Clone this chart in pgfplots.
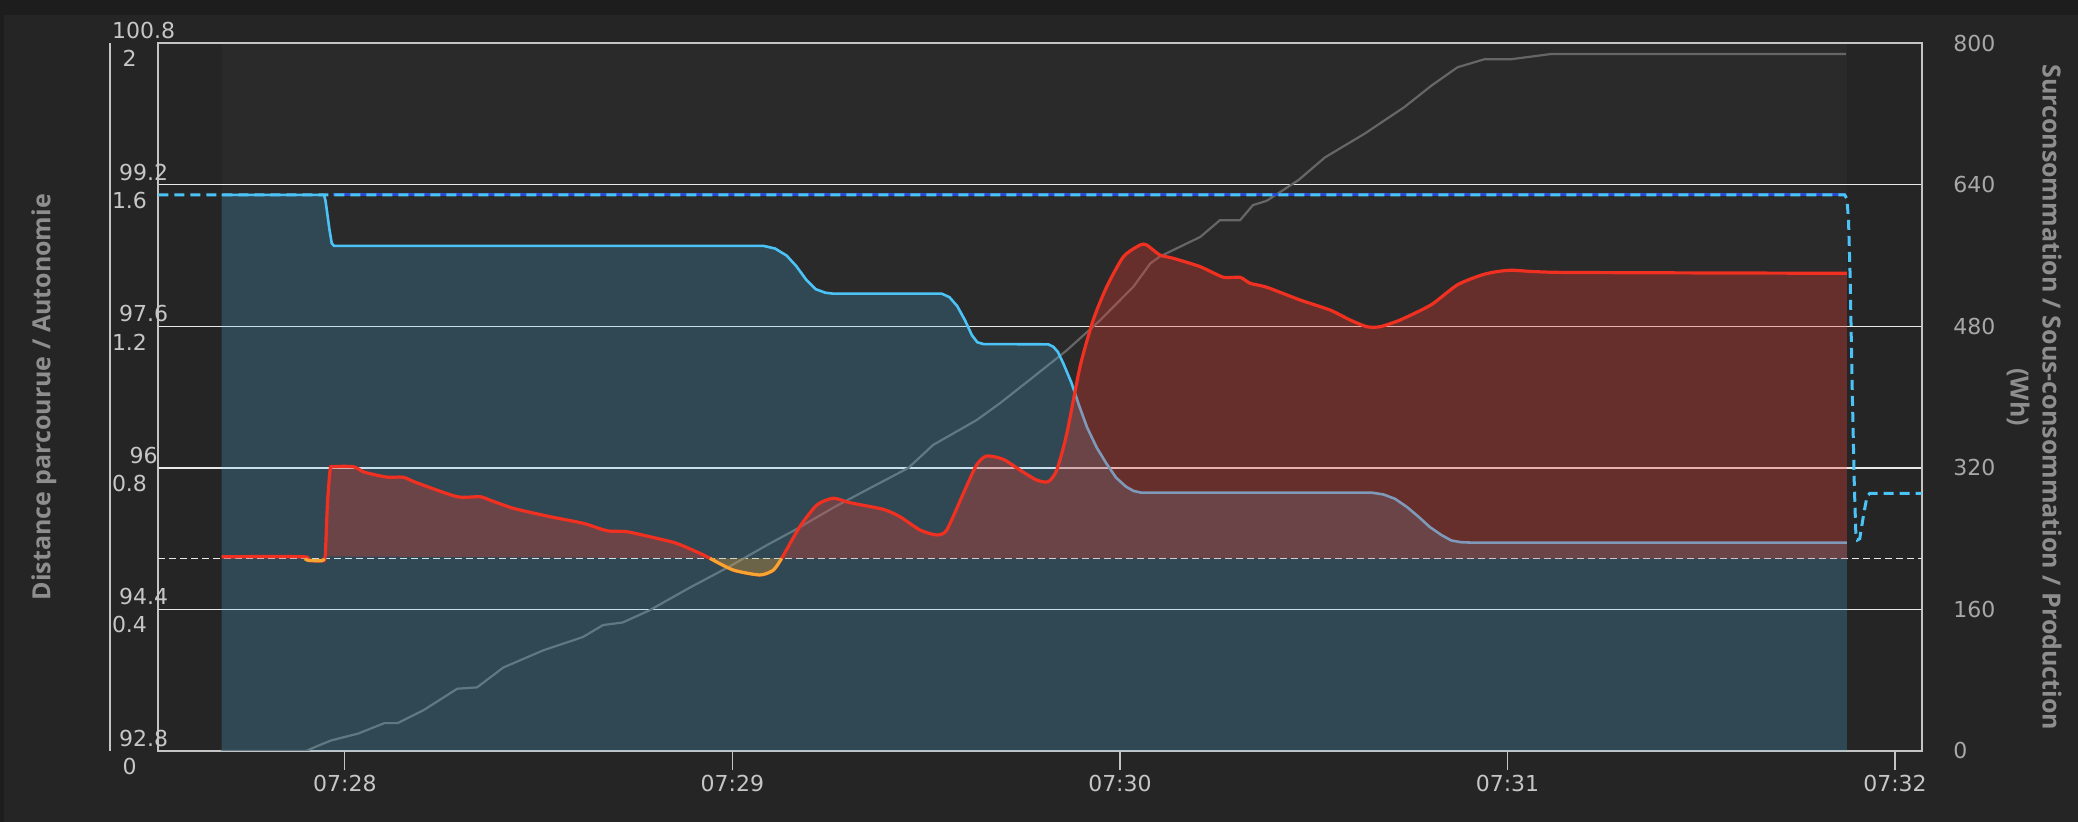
\documentclass[border=0pt]{standalone}
\usepackage{fontspec}
\setmainfont{DejaVu Sans}
\newfontfamily\titlefont{Open Sans}
\usepackage{pgfplots}
\pgfplotsset{compat=1.18}

\definecolor{bgc}{HTML}{252525}
\definecolor{topc}{HTML}{1D1D1D}
\definecolor{framec}{HTML}{C4C4C4}
\definecolor{gridc}{HTML}{E8E8E8}
\definecolor{labc}{HTML}{C6C6C6}
\definecolor{rlabc}{HTML}{A8A8A8}
\definecolor{titc}{HTML}{8E8E8E}
\definecolor{bluec}{HTML}{4CC3F7}
\definecolor{dblue}{HTML}{2C4CD0}
\definecolor{redc}{HTML}{F03020}
\definecolor{redf}{HTML}{F03C30}
\definecolor{orangec}{HTML}{F5A530}
\definecolor{grayc}{HTML}{666666}

\pgfplotstableread{
x y
27.682 628.7
27.946 628.7
27.950 622
27.960 590
27.966 574
27.972 571
29.080 571
29.110 568
29.140 560
29.165 548
29.190 533
29.215 522
29.240 518
29.260 517
29.540 517
29.560 513
29.580 503
29.600 487
29.618 470
29.632 462
29.648 460
29.815 459.7
29.828 457
29.840 451
29.855 437
29.875 416
29.895 390
29.915 366
29.940 343
29.965 325
29.990 309
30.015 299
30.035 294
30.055 292
30.650 292
30.680 290
30.710 285
30.740 276
30.770 265
30.800 253
30.830 244
30.855 238
30.880 236
30.910 235.5
31.876 235.5
}\autonomie

\pgfplotstableread{
x y
27.682 219.6
27.892 219.6
27.905 215.5
27.940 215.0
27.949 220
27.955 280
27.962 318
27.969 321.4
28.022 321.4
28.047 315.7
28.080 312
28.112 309.4
28.151 309.4
28.185 303.3
28.289 287.5
28.349 287.5
28.374 283.7
28.435 274.3
28.529 264.9
28.615 257.4
28.676 249.0
28.727 247.9
28.787 242.2
28.854 235.0
28.916 223.5
28.942 217.8
29.002 204.6
29.071 199.0
29.106 204.6
29.127 217.8
29.174 253.6
29.218 278.1
29.260 285.7
29.303 280.7
29.389 273.2
29.432 264.9
29.484 249.8
29.527 244.2
29.553 249.8
29.596 291.3
29.630 323.3
29.656 333.5
29.699 329.7
29.742 317.6
29.785 306.3
29.815 304.4
29.837 317.6
29.863 359.1
29.897 434.4
29.931 487.2
29.966 524.9
30.009 558.8
30.052 572.0
30.069 572.0
30.103 560.7
30.138 556.9
30.207 547.5
30.267 535.5
30.310 535.5
30.336 528.7
30.379 524.2
30.465 509.8
30.542 498.5
30.594 487.2
30.637 479.6
30.671 479.6
30.723 487.2
30.803 504.4
30.871 527.0
30.940 538.9
31.008 543.4
31.145 541
31.876 540
}\surconso

% parts below the reference level (sous-consommation)
\pgfplotstableread{
x y
27.897 217.4
27.905 215.5
27.940 215.0
27.947 217.4
}\sousA

\pgfplotstableread{
x y
28.942 217.8
29.002 204.6
29.071 199.0
29.106 204.6
29.127 217.8
}\sousB

\pgfplotstableread{
x y
27.681 0
27.900 0
27.931 6
27.965 12
28.033 19.5
28.102 31.5
28.136 31.5
28.204 46.4
28.290 70.4
28.341 71.9
28.409 94.4
28.512 113.8
28.614 128.8
28.666 142.3
28.717 145.3
28.785 158.8
28.888 184.2
28.991 208.2
29.093 233.7
29.162 250
29.264 276
29.350 296
29.454 320
29.518 346
29.630 374
29.690 393
29.777 423
29.863 453
29.949 487
30.035 525
30.078 551
30.103 559
30.207 581
30.258 600
30.310 600
30.343 617
30.379 622
30.461 645.5
30.529 671.0
30.632 698.0
30.734 727.9
30.803 751.9
30.871 772.9
30.940 781.9
31.008 781.9
31.111 787.8
31.873 787.8
}\distance

\pgfplotstableread{
x y
27.5185 628.7
31.870 628.7
31.876 624
31.880 600
31.884 540
31.890 400
31.895 300
31.899 245
31.903 238.5
31.909 240
31.920 270
31.928 288
31.935 291.3
32.0689 291.3
}\prevision

\begin{document}
\begin{tikzpicture}
\fill[bgc] (-79.15pt,-35.5pt) rectangle (959.85pt,375.5pt);
\fill[topc] (-79.15pt,368pt) rectangle (959.85pt,375.5pt);
\fill[topc] (-79.15pt,-35.5pt) rectangle (-77.15pt,368pt);

% left labels, second scale (0 - 2) with its own axis line
\begin{axis}[
    at={(-24.15pt,0pt)}, anchor=south west,
    scale only axis, width=20pt, height=353.85pt,
    ymin=0, ymax=800, xmin=0, xmax=1,
    hide x axis,
    axis y line*=left,
    y axis line style={-, draw=framec, line width=0.9pt},
    ytick={0,160,320,480,640,800},
    yticklabels={0,0.4,0.8,1.2,1.6,2},
    ytick style={draw=none},
    yticklabel style={anchor=center, inner sep=0pt, xshift=9.75pt, yshift=-7.75pt,
        font=\fontsize{11}{13}\selectfont, text=labc},
]
\addplot[draw=none] coordinates {(0,0)(1,800)};
\end{axis}

\begin{axis}[
    at={(0pt,0pt)}, anchor=south west,
    scale only axis, width=881.7pt, height=353.85pt,
    xmin=27.5185, xmax=32.0689,
    ymin=0, ymax=800,
    axis line style={draw=framec, line width=0.9pt},
    ymajorgrids, grid style={gridc, line width=0.65pt},
    xtick={28,29,30,31,32},
    xticklabels={07:28,07:29,07:30,07:31,07:32},
    xtick pos=bottom, xtick align=outside,
    x tick style={framec, line width=0.6pt},
    major tick length=9.5pt,
    ytick style={draw=none},
    xticklabel style={anchor=center, inner sep=0pt, yshift=-6.7pt,
        font=\fontsize{11}{13}\selectfont, text=labc},
    ytick={0,160,320,480,640,800},
    yticklabels={0,160,320,480,640,800},
    yticklabel pos=right,
    yticklabel style={anchor=west, inner sep=0pt, xshift=15.65pt,
        font=\fontsize{11}{13}\selectfont, text=rlabc},
]
% lighter band of the recorded period
\addplot[draw=none, fill=white, fill opacity=0.025] coordinates {(27.6836,0)(27.6836,800)(31.8756,800)(31.8756,0)} -- cycle;
% reference level
\addplot[gridc, line width=0.6pt, dash pattern=on 3.5pt off 2pt] coordinates {(27.5185,217.4)(32.0689,217.4)};
% distance
\addplot[grayc, line width=1.1pt] table {\distance};
% autonomie
\addplot[bluec, line width=1.3pt] table {\autonomie};
\addplot[draw=none, fill=bluec, fill opacity=0.2] table {\autonomie} \closedcycle;
% surconsommation: areas above the reference level
\addplot[draw=none, fill=redf, fill opacity=0.31, smooth, tension=0.4,
    restrict x to domain=27.6:27.895] table {\surconso}
    -- (axis cs:27.892,217.4) -- (axis cs:27.682,217.4) -- cycle;
\addplot[draw=none, fill=redf, fill opacity=0.31, smooth, tension=0.4,
    restrict x to domain=27.945:28.95] table {\surconso} -- cycle;
\addplot[draw=none, fill=redf, fill opacity=0.31, smooth, tension=0.4,
    restrict x to domain=29.12:31.9] table {\surconso}
    -- (axis cs:31.876,217.4) -- cycle;
% sous-consommation: areas below it
\addplot[draw=none, fill=orangec, fill opacity=0.3, smooth, tension=0.4] table {\sousA} -- cycle;
\addplot[draw=none, fill=orangec, fill opacity=0.3, smooth, tension=0.4] table {\sousB} -- cycle;
\addplot[redc, line width=1.6pt, smooth, tension=0.4] table {\surconso};
\addplot[orangec, line width=1.6pt, smooth, tension=0.4] table {\sousA};
\addplot[orangec, line width=1.6pt, smooth, tension=0.4] table {\sousB};
% prevision
\addplot[dblue, line width=1.4pt] coordinates {(27.97,628.7)(31.870,628.7)};
\addplot[bluec, line width=1.5pt, dash pattern=on 5pt off 3pt] table {\prevision};
\end{axis}

% left labels, first scale (92.8 - 100.8)
\begin{axis}[
    at={(0pt,0pt)}, anchor=south west,
    scale only axis, width=881.7pt, height=353.85pt,
    ymin=0, ymax=800, xmin=0, xmax=1,
    hide x axis,
    axis y line*=left,
    y axis line style={draw=none},
    ytick={0,160,320,480,640,800},
    yticklabels={92.8,94.4,96,97.6,99.2,100.8},
    ytick style={draw=none},
    yticklabel style={anchor=center, inner sep=0pt, xshift=-7.3pt, yshift=6.25pt,
        font=\fontsize{11}{13}\selectfont, text=labc},
]
\addplot[draw=none] coordinates {(0,0)(1,800)};
\end{axis}

\node[rotate=90, text=titc, font=\titlefont\bfseries\fontsize{12.5}{16}\selectfont]
    at (-57.15pt,176.9pt) {Distance parcourue / Autonomie};
\node[rotate=-90, align=center, text=titc, font=\titlefont\bfseries\fontsize{12.5}{16}\selectfont]
    at (937.85pt,176.9pt) {Surconsommation / Sous-consommation / Production\\(Wh)};
\end{tikzpicture}
\end{document}
